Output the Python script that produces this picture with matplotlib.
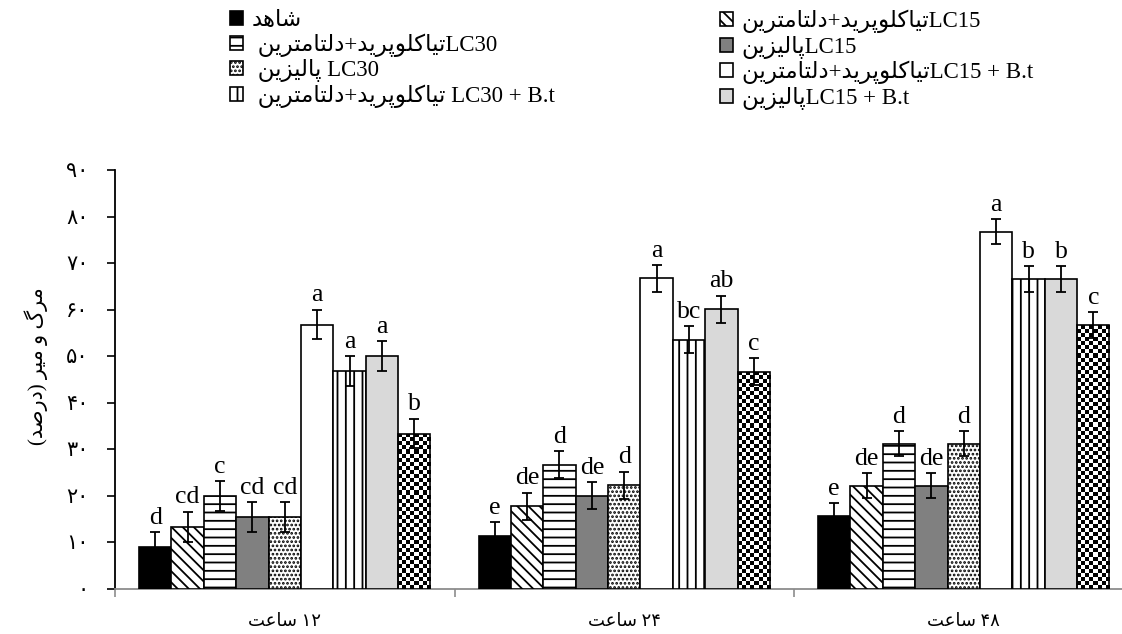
import numpy as np
import matplotlib
matplotlib.use("Agg")
import matplotlib.pyplot as plt

plt.rcParams['font.family'] = ['Liberation Serif', 'DejaVu Sans']
plt.rcParams['hatch.linewidth'] = 1.3

# ---------------- data ----------------
time_labels = ["۱۲ ساعت", "۲۴ ساعت", "۴۸ ساعت"]

# treatment order as drawn in every group
treat_fa = ["شاهد", "تیاکلوپرید+دلتامترین", "تیاکلوپرید+دلتامترین", "پالیزین", "پالیزین",
            "تیاکلوپرید+دلتامترین", "تیاکلوپرید+دلتامترین", "پالیزین", "پالیزین"]
treat_lat = ["", "LC15", "LC30", "LC15", " LC30", "LC15 + B.t", " LC30 + B.t", "LC15 + B.t", " LC30 + B.t"]
treat_lead = ["", "", " ", "", " ", "", " ", "", " "]

mort_12h = [9.0, 13.4, 20.0, 15.5, 15.5, 56.8, 46.8, 50.0, 33.4]
mort_24h = [11.4, 17.8, 26.7, 20.0, 22.3, 66.7, 53.5, 60.1, 46.7]
mort_48h = [15.7, 22.2, 31.2, 22.2, 31.2, 76.7, 66.6, 66.6, 56.7]

err_12h = [3.2] * 9
err_24h = [2.9] * 9
err_48h = [2.7] * 9

letters_12h = ["d", "cd", "c", "cd", "cd", "a", "a", "a", "b"]
letters_24h = ["e", "de", "d", "de", "d", "a", "bc", "ab", "c"]
letters_48h = ["e", "de", "d", "de", "d", "a", "b", "b", "c"]

y_ticks = [0, 10, 20, 30, 40, 50, 60, 70, 80, 90]
y_label = "مرگ و میر (درصد)"

# ---------------- styles ----------------
faces = ['black', 'white', 'white', '#808080', 'white', 'white', 'white', '#d9d9d9', 'none']
hatches = [None, '\\\\\\', '--', None, '....', None, '||', None, None]

# ---------------- Persian shaping helpers ----------------
FORMS = {
    'ا': ('\uFE8D', '\uFE8E', None, None),
    'د': ('\uFEA9', '\uFEAA', None, None),
    'ر': ('\uFEAD', '\uFEAE', None, None),
    'ز': ('\uFEAF', '\uFEB0', None, None),
    'و': ('\uFEED', '\uFEEE', None, None),
    'ه': ('\uFEE9', '\uFEEA', '\uFEEB', '\uFEEC'),
    'ش': ('\uFEB5', '\uFEB6', '\uFEB7', '\uFEB8'),
    'س': ('\uFEB1', '\uFEB2', '\uFEB3', '\uFEB4'),
    'ص': ('\uFEB9', '\uFEBA', '\uFEBB', '\uFEBC'),
    'ت': ('\uFE95', '\uFE96', '\uFE97', '\uFE98'),
    'ع': ('\uFEC9', '\uFECA', '\uFECB', '\uFECC'),
    'ل': ('\uFEDD', '\uFEDE', '\uFEDF', '\uFEE0'),
    'م': ('\uFEE1', '\uFEE2', '\uFEE3', '\uFEE4'),
    'ن': ('\uFEE5', '\uFEE6', '\uFEE7', '\uFEE8'),
    'ی': ('\uFBFC', '\uFBFD', '\uFBFE', '\uFBFF'),
    'ک': ('\uFB8E', '\uFB8F', '\uFB90', '\uFB91'),
    'گ': ('\uFB92', '\uFB93', '\uFB94', '\uFB95'),
    'پ': ('\uFB56', '\uFB57', '\uFB58', '\uFB59'),
}


def shape(s):
    out = []
    n = len(s)
    for i, c in enumerate(s):
        if c not in FORMS:
            out.append(c)
            continue
        iso, fin, ini, med = FORMS[c]
        prev_j = i > 0 and s[i - 1] in FORMS and FORMS[s[i - 1]][2] is not None
        next_j = i < n - 1 and s[i + 1] in FORMS and ini is not None
        if prev_j and next_j:
            out.append(med)
        elif prev_j:
            out.append(fin)
        elif next_j:
            out.append(ini)
        else:
            out.append(iso)
    return ''.join(out)


def rtl(s):
    v = shape(s)[::-1]
    return v.translate(str.maketrans({'(': ')', ')': '('}))


def time_visual(lbl):
    num, word = lbl.split(' ', 1)
    return rtl(word) + ' ' + num


def fa_digits(v):
    return str(v).translate(str.maketrans('0123456789', '۰۱۲۳۴۵۶۷۸۹'))


# ---------------- figure ----------------
W, H = 1122, 634
fig = plt.figure(figsize=(W / 100, H / 100), dpi=100)
ax = fig.add_axes([115 / W, 45 / H, 1018.5 / W, 419 / H])

x = np.arange(len(time_labels))
w = 0.0954
all_means = [mort_12h, mort_24h, mort_48h]
all_errs = [err_12h, err_24h, err_48h]
all_letters = [letters_12h, letters_24h, letters_48h]

handles = []
for i in range(9):
    vals = [m[i] for m in all_means]
    errs = [e[i] for e in all_errs]
    pos = x + (i - 4) * w
    bars = ax.bar(pos, vals, width=w, facecolor=faces[i], edgecolor='black',
                  hatch=hatches[i], linewidth=1.2, zorder=3)
    handles.append(bars)
    if i == 8:
        px_per_unit = 419 / 90.0
        for p in bars.patches:
            h = p.get_height()
            nrows = max(1, int(round(h * px_per_unit / 4.05)))
            pattern = np.add.outer(np.arange(nrows), np.arange(8)) % 2
            im = ax.imshow(pattern, extent=[p.get_x(), p.get_x() + p.get_width(), 0, h],
                           cmap='gray_r', origin='lower', interpolation='nearest',
                           aspect='auto', zorder=2.9)
            im.set_clip_path(p)
    ax.errorbar(pos, vals, yerr=errs, fmt='none', ecolor='black', elinewidth=1.3,
                capsize=3.5, capthick=1.3, zorder=4)
    for g in range(3):
        ax.annotate(all_letters[g][i], (pos[g], vals[g] + errs[g]), xytext=(0, 6),
                    textcoords='offset points', ha='center', va='baseline',
                    fontsize=18.5, family='Liberation Serif')

ax.set_xlim(-0.5, 2.5)
ax.set_ylim(0, 90)

for s in ['top', 'right']:
    ax.spines[s].set_visible(False)
ax.spines['left'].set_color('black')
ax.spines['left'].set_linewidth(1.3)
ax.spines['bottom'].set_color('#8c8c8c')
ax.spines['bottom'].set_linewidth(1.3)

ax.set_yticks(y_ticks)
ax.set_yticklabels([fa_digits(t) for t in y_ticks], fontsize=15)
ax.tick_params(axis='y', direction='out', length=6, width=1.2, color='black', pad=13)

ax.set_xticks([-0.5, 0.5, 1.5, 2.5])
ax.set_xticklabels([])
ax.tick_params(axis='x', which='major', direction='out', length=6, width=1.2, color='#8c8c8c')
ax.set_xticks(x, minor=True)
ax.set_xticklabels([time_visual(t) for t in time_labels], minor=True, fontsize=13)
ax.tick_params(axis='x', which='minor', length=0, pad=17)

fig.text(36 / W, 1 - 366 / H, rtl(y_label), rotation=90, ha='center', va='center', fontsize=15)

labels = [treat_lead[i] + rtl(treat_fa[i]) + treat_lat[i] for i in range(9)]
left_idx = [0, 2, 4, 6]
right_idx = [1, 3, 5, 7]
for idxs, xpx in [(left_idx, 230), (right_idx, 720)]:
    fig.legend([handles[k] for k in idxs], [labels[k] for k in idxs],
               loc='upper left', bbox_to_anchor=(xpx / W, 1 - 10 / H),
               frameon=False, fontsize=16.5, handlelength=0.55, handleheight=0.55,
               handletextpad=0.4, labelspacing=0.1, borderpad=0, borderaxespad=0)

fig.savefig('out.png', dpi=100)
